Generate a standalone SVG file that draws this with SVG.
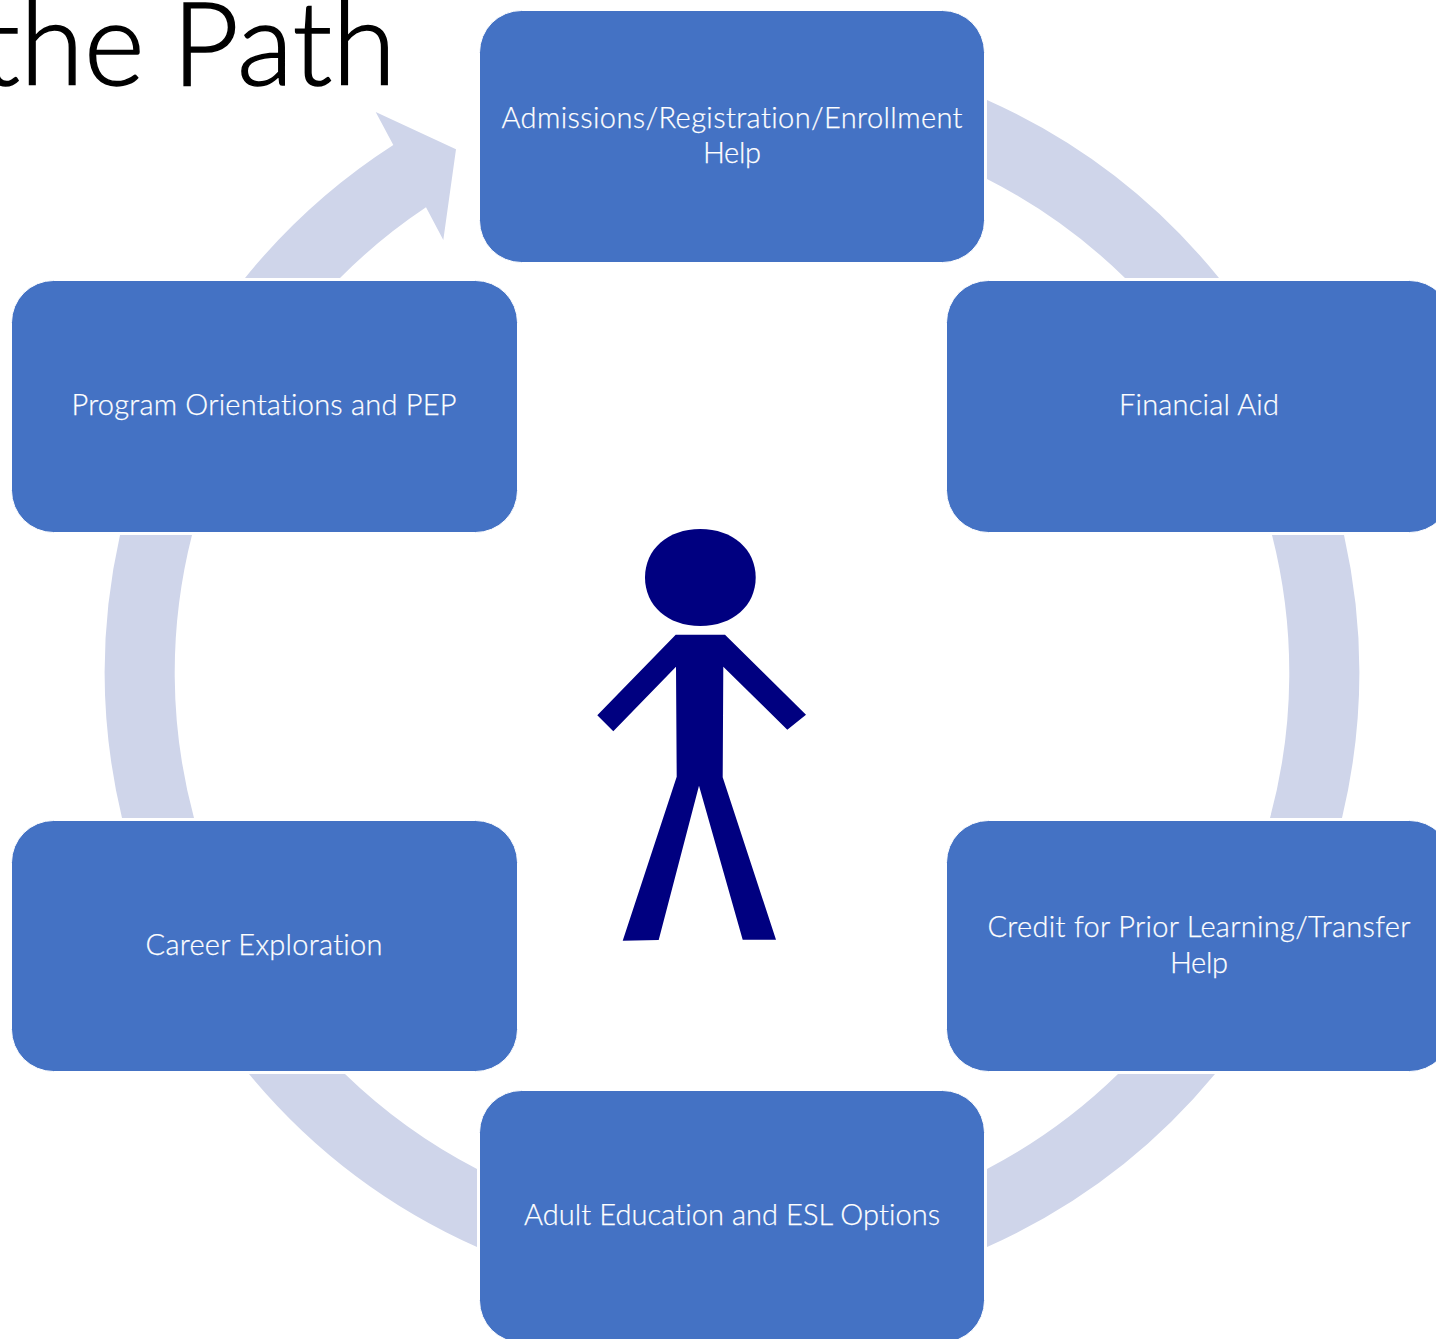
<svg xmlns="http://www.w3.org/2000/svg" width="1436" height="1339" viewBox="0 0 1436 1339">
<style>
.ring{fill:#CFD5EA}
.box{fill:#4472C4;stroke:#fff;stroke-width:1}
.lbl{font-family:Lato,"Open Sans",sans-serif;font-size:29px;font-weight:300;font-variant-ligatures:none;fill:#fff;stroke:#fff;stroke-width:.25px;text-anchor:middle}
.title{font-family:Lato,"Open Sans",sans-serif;font-size:116px;font-weight:300;font-variant-ligatures:none;fill:#000;stroke:#000;stroke-width:1.5px;text-anchor:end;word-spacing:-4px}
</style>
<rect width="1436" height="1339" fill="#fff"/>
<text class="title" x="396" y="85">the Path</text>
<g id="connectors">
<path class="ring" d="M987 100A627 627 0 0 1 1219 278H1125A557 557 0 0 0 987 179Z"/>
<path class="ring" d="M1344 535A627 627 0 0 1 1342 818H1270A557 557 0 0 0 1272 535Z"/>
<path class="ring" d="M1215 1074A627 627 0 0 1 987 1247V1169A557 557 0 0 0 1118 1074Z"/>
<path class="ring" d="M477 1247A627 627 0 0 1 249 1074H345A557 557 0 0 0 477 1169Z"/>
<path class="ring" d="M122 818A627 627 0 0 1 120 535H192A557 557 0 0 0 194 818Z"/>
<path class="ring" d="M245 278A627 627 0 0 1 393.3 145L375.700 112L456 149.300L443.300 240L426 207.300A557 557 0 0 0 340 278Z"/>
</g>
<g id="node-admissions"><rect class="box" x="479.500" y="10.500" width="505" height="252" rx="42"/>
<text class="lbl" x="732" y="128" textLength="461">Admissions/Registration/Enrollment</text><text class="lbl" x="732" y="163" textLength="58">Help</text></g>
<g id="node-financial"><rect class="box" x="946.500" y="280.500" width="505" height="252" rx="42"/>
<text class="lbl" x="1199" y="415" textLength="160">Financial Aid</text></g>
<g id="node-credit"><rect class="box" x="946.500" y="820.500" width="505" height="251" rx="42"/>
<text class="lbl" x="1199" y="937" textLength="423">Credit for Prior Learning/Transfer</text><text class="lbl" x="1199" y="973" textLength="58">Help</text></g>
<g id="node-adult"><rect class="box" x="479.500" y="1090.500" width="505" height="252" rx="42"/>
<text class="lbl" x="732" y="1225" textLength="416">Adult Education and ESL Options</text></g>
<g id="node-career"><rect class="box" x="11.500" y="820.500" width="506" height="251" rx="42"/>
<text class="lbl" x="264" y="955" textLength="237">Career Exploration</text></g>
<g id="node-program"><rect class="box" x="11.500" y="280.500" width="506" height="252" rx="42"/>
<text class="lbl" x="264" y="415" textLength="385">Program Orientations and PEP</text></g>
<g id="person" fill="#000080">
<path d="M700.300 529C733 529 755.700 549.500 755.700 577.500C755.700 605.500 733 626 700.300 626C667.500 626 645 605.500 645 577.500C645 549.500 667.500 529 700.300 529Z"/>
<path d="M675.700 634.700H725L806 714.700L787.300 729.700L723.300 666.700L722.700 777.300L776 939.700H742.700L699 785.700L658.700 940L622.700 940.700L676.700 776.700L676 666.700L613.300 731.300L597.300 715.300Z"/>
</g>
</svg>
